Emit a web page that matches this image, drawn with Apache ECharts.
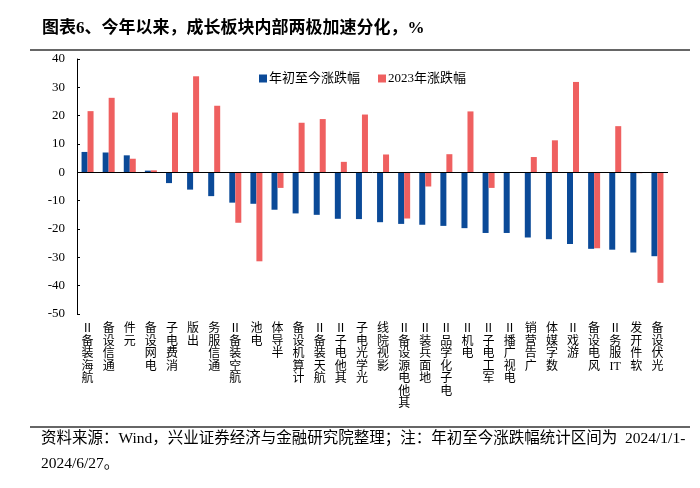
<!DOCTYPE html>
<html>
<head>
<meta charset="utf-8">
<script src="https://cdn.jsdelivr.net/npm/echarts@6/dist/echarts.min.js"></script>
<style>
html,body{margin:0;padding:0;background:#fff;}
#chart{width:700px;height:488px;}
</style>
</head>
<body>
<div id="chart"></div>
<script>
const categories = ['航海装备Ⅱ','通信设备','元件','电网设备','消费电子','出版','通信服务','航空装备Ⅱ','电池','半导体','计算机设备','航天装备Ⅱ','其他电子Ⅱ','光学光电子','影视院线','其他电源设备Ⅱ','地面兵装Ⅱ','电子化学品Ⅱ','电机Ⅱ','军工电子Ⅱ','电视广播Ⅱ','广告营销','数字媒体','游戏Ⅱ','风电设备','IT服务Ⅱ','软件开发','光伏设备'];
const ytdChange = [7.2,7.0,6.0,0.6,-3.8,-6.1,-8.4,-10.7,-11.1,-13.2,-14.5,-15.0,-16.4,-16.5,-17.6,-18.2,-18.5,-18.9,-19.7,-21.4,-21.4,-23.0,-23.6,-25.3,-27.0,-27.3,-28.3,-29.6];
const change2023 = [21.6,26.3,4.8,0.7,21.1,33.9,23.5,-17.8,-31.4,-5.5,17.5,18.8,3.7,20.4,6.3,-16.3,-5.0,6.4,21.5,-5.5,0.1,5.4,11.3,31.9,-26.8,16.3,-0.3,-39.0];
const seriesNames = ['年初至今涨跌幅','2023年涨跌幅'];
const yTicks = {min:-50, max:40, interval:10};
const titleText = '图表6、今年以来，成长板块内部两极加速分化，%';
const noteLine1 = '资料来源：Wind，兴业证券经济与金融研究院整理；注：年初至今涨跌幅统计区间为  2024/1/1-';
const noteLine2 = '2024/6/27。';

const serif = '"Liberation Serif","Times New Roman","Noto Sans CJK SC",serif';
const chart = echarts.init(document.getElementById('chart'));
chart.setOption({
  animation:false,
  backgroundColor:'#fff',
  graphic:[
    {type:'text', left:42, top:20, style:{text:titleText, font:'bold 17px '+serif, fill:'#000'}},
    {type:'line', shape:{x1:30,y1:50,x2:690,y2:50}, style:{stroke:'#333', lineWidth:1.5}},
    {type:'line', shape:{x1:30,y1:427,x2:690,y2:427}, style:{stroke:'#333', lineWidth:1.5}},
    {type:'text', left:41, top:431, style:{text:noteLine1, font:'15.5px '+serif, fill:'#000'}},
    {type:'text', left:41, top:456, style:{text:noteLine2, font:'15.5px '+serif, fill:'#000'}}
  ],
  legend:{
    left:254, top:67, itemWidth:8, itemHeight:8, itemGap:18,
    icon:'rect',
    textStyle:{fontFamily:serif, fontSize:13, color:'#000', padding:[0,0,0,-3]},
    data:seriesNames
  },
  grid:{left:77, right:32, top:59, bottom:174},
  xAxis:{
    type:'category', data:categories, position:'bottom',
    axisLine:{show:false}, axisTick:{show:false},
    axisLabel:{
      interval:0, margin:9, fontFamily:serif, fontSize:12, lineHeight:12.5, color:'#000',
      verticalAlign:'top',
      formatter:function(v){ return v.match(/[A-Za-z]+|./g).reverse().join('\n'); }
    }
  },
  yAxis:{
    type:'value', min:yTicks.min, max:yTicks.max, interval:yTicks.interval,
    splitLine:{show:false},
    axisLine:{show:true, lineStyle:{color:'#000', width:1}},
    axisTick:{show:true, inside:true, length:3, lineStyle:{color:'#000'}},
    axisLabel:{fontFamily:serif, fontSize:13, color:'#000', margin:12}
  },
  series:[
    {name:seriesNames[0], type:'bar', data:ytdChange, barWidth:6, barGap:'0%',
     itemStyle:{color:'#0B4A98'},
     markLine:{silent:true, symbol:'none', label:{show:false},
       lineStyle:{color:'#000', type:'solid', width:1}, data:[{yAxis:0}]}},
    {name:seriesNames[1], type:'bar', data:change2023, barWidth:6, barGap:'0%',
     itemStyle:{color:'#EF6060'}}
  ]
});
</script>
</body>
</html>
